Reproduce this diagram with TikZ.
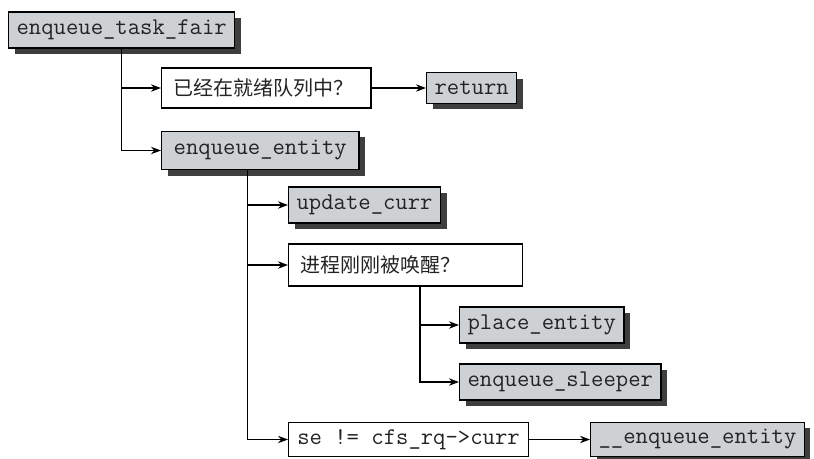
\documentclass[tikz,border=0pt]{standalone}
\usepackage{fontspec}
\newfontfamily\cjk{Noto Sans CJK SC}
\usetikzlibrary{arrows.meta, positioning, shadows}
\definecolor{boxgray}{RGB}{206,209,212}
\definecolor{shadowgray}{RGB}{62,62,62}
\definecolor{inkgray}{RGB}{35,35,35}

\begin{document}
\begin{tikzpicture}[
				x=0.75pt, y=-0.75pt,
				fnbox/.style={draw, line width=0.9pt, fill=boxgray, anchor=west, minimum height=27pt, inner xsep=6pt, text=inkgray, font=\ttfamily\fontsize{18}{20}\selectfont, drop shadow={shadow xshift=4.5pt, shadow yshift=-4.5pt, fill=shadowgray, opacity=1}},
				condbox/.style={draw, line width=0.9pt, fill=white, anchor=west, minimum height=30pt, inner xsep=9pt, align=left, text=inkgray, font=\cjk\fontsize{15}{18}\selectfont},
				arrowstyle/.style={-{Stealth[length=7.5pt, width=5.5pt]}, line width=1.1pt}
			]
			\useasboundingbox (0,0) rectangle (814,458);
			\node[fnbox] (tf) at (8,30) {enqueue\_task\_fair};
			\node[condbox, text width=139pt] (chk) at (161,88) {已经在就绪队列中？};
			\node[fnbox, minimum height=23pt] (ret) at (426,88) {return};
			\node[fnbox, minimum height=29pt, minimum width=148pt] (ee) at (161,150.5) {enqueue\_entity};
			\node[fnbox] (uc) at (288,205) {update\_curr};
			\node[condbox, text width=157.5pt, minimum height=31.5pt] (wake) at (288,265) {进程刚刚被唤醒？};
			\node[fnbox] (pe) at (459,325) {place\_entity};
			\node[fnbox] (sl) at (459,382) {enqueue\_sleeper};
			\node[condbox, font=\ttfamily\fontsize{18}{20}\selectfont, inner xsep=6.5pt, minimum height=26pt] (cmp) at (288,439.5) {se != cfs\_rq->curr};
			\node[fnbox, minimum height=26pt] (enq) at (590,439.5) {\_\_enqueue\_entity};
			\coordinate (eefork) at ([xshift=65pt]ee.south west);
			\coordinate (wkfork) at ([xshift=99pt]wake.south west);
			\draw[arrowstyle] (tf.south) |- (chk);
			\draw[arrowstyle] (tf.south) |- (ee);
			\draw[arrowstyle] (chk) -- (ret);
			\draw[arrowstyle] (eefork) |- (uc);
			\draw[arrowstyle] (eefork) |- (wake);
			\draw[arrowstyle] (eefork) |- (cmp);
			\draw[arrowstyle] (wkfork) |- (pe);
			\draw[arrowstyle] (wkfork) |- (sl);
			\draw[arrowstyle] (cmp) -- (enq);
		\end{tikzpicture}
\end{document}
